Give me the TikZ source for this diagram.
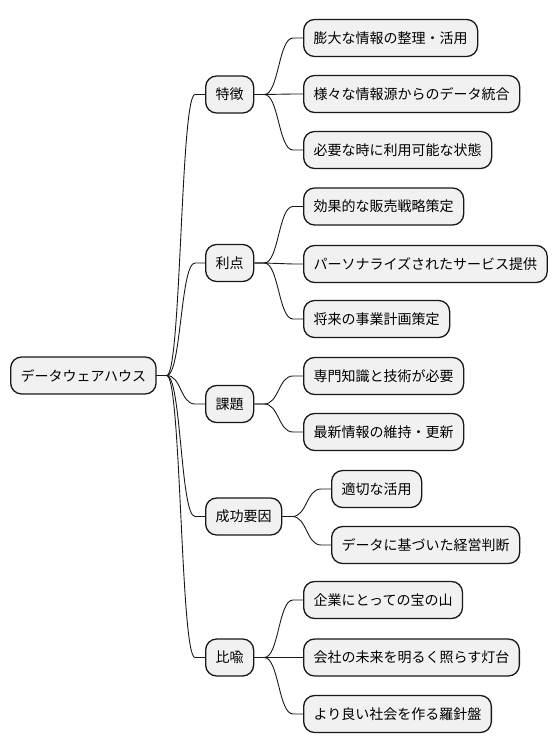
\documentclass[tikz,border=0pt]{standalone}
\usepackage{fontspec}
\setmainfont{Noto Sans CJK JP}
\definecolor{boxfill}{HTML}{F1F1F1}
\definecolor{boxline}{HTML}{181818}
\tikzset{
  mbox/.style={draw=boxline, fill=boxfill, line width=1.3pt, rounded corners=11pt,
    minimum height=37pt, inner xsep=10pt, inner ysep=0pt, anchor=west,
    font=\fontsize{14pt}{16pt}\selectfont, text=black},
  mlink/.style={draw=boxline, line width=0.9pt}
}
\newcommand\mlink[2]{%
  \draw[mlink] (#1.east) -- ([xshift=10pt]#1.east)
    .. controls ([xshift=24.5pt]#1.east) and ([xshift=-24.5pt]#2.west)
    .. ([xshift=-10pt]#2.west) -- (#2.west);}
\begin{document}
\begin{tikzpicture}[x=1pt,y=-1pt]
\useasboundingbox (0,0) rectangle (558,752);
\node[mbox] (root) at (10,375.5) {データウェアハウス};
\node[mbox] (t1) at (205,94.5) {特徴};
\node[mbox] (t2) at (205,263) {利点};
\node[mbox] (t3) at (205,404) {課題};
\node[mbox] (t4) at (205,516.5) {成功要因};
\node[mbox] (t5) at (205,657.5) {比喩};
\node[mbox] (a1) at (303,38) {膨大な情報の整理・活用};
\node[mbox] (a2) at (303,94) {様々な情報源からのデータ統合};
\node[mbox] (a3) at (303,150) {必要な時に利用可能な状態};
\node[mbox] (b1) at (303,206.5) {効果的な販売戦略策定};
\node[mbox] (b2) at (303,264) {パーソナライズされたサービス提供};
\node[mbox] (b3) at (303,319) {将来の事業計画策定};
\node[mbox] (c1) at (303,376) {専門知識と技術が必要};
\node[mbox] (c2) at (303,432) {最新情報の維持・更新};
\node[mbox] (d1) at (331,489) {適切な活用};
\node[mbox] (d2) at (331,545) {データに基づいた経営判断};
\node[mbox] (e1) at (303,600) {企業にとっての宝の山};
\node[mbox] (e2) at (303,657.5) {会社の未来を明るく照らす灯台};
\node[mbox] (e3) at (303,714) {より良い社会を作る羅針盤};
\mlink{root}{t1}\mlink{root}{t2}\mlink{root}{t3}\mlink{root}{t4}\mlink{root}{t5}
\mlink{t1}{a1}\mlink{t1}{a2}\mlink{t1}{a3}
\mlink{t2}{b1}\mlink{t2}{b2}\mlink{t2}{b3}
\mlink{t3}{c1}\mlink{t3}{c2}
\mlink{t4}{d1}\mlink{t4}{d2}
\mlink{t5}{e1}\mlink{t5}{e2}\mlink{t5}{e3}
\end{tikzpicture}
\end{document}
